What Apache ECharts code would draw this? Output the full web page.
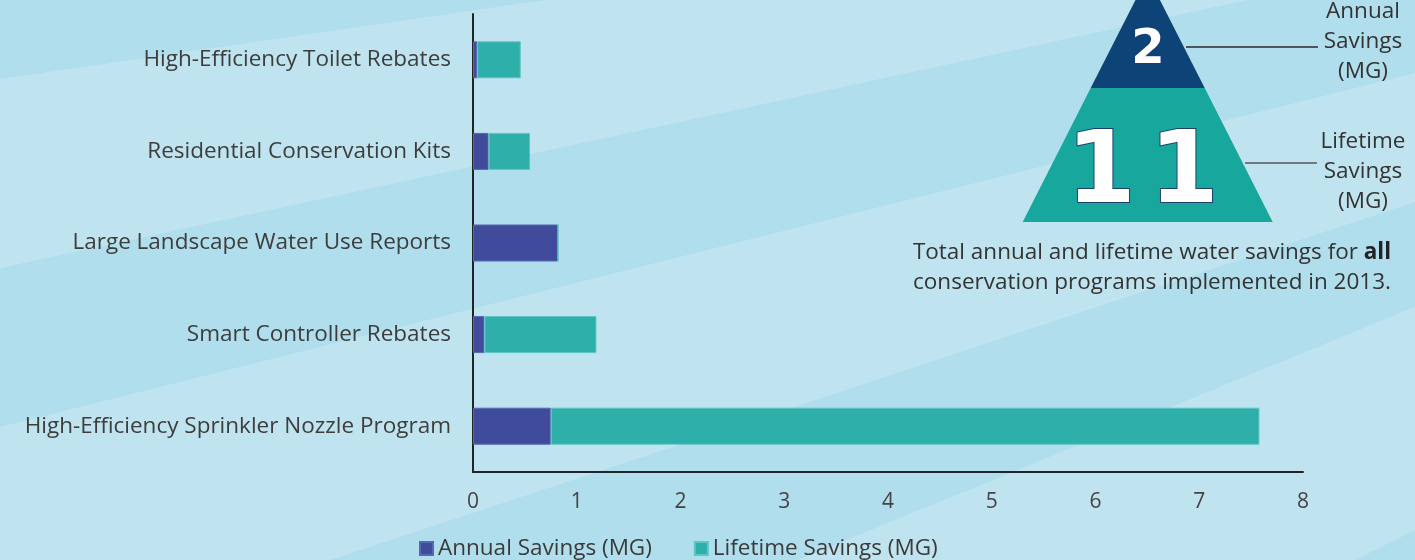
<!DOCTYPE html>
<html>
<head>
<meta charset="utf-8">
<style>
  html, body { margin: 0; padding: 0; background: #c0e4ef; }
  #chart { width: 1415px; height: 560px; }
</style>
<script src="https://cdn.jsdelivr.net/npm/echarts@6/dist/echarts.min.js"></script>
</head>
<body>
<div id="chart"></div>
<script>
// 数据
var categories = [
    'High-Efficiency Toilet Rebates',
    'Residential Conservation Kits',
    'Large Landscape Water Use Reports',
    'Smart Controller Rebates',
    'High-Efficiency Sprinkler Nozzle Program'
];
var annualSavings = [0.04, 0.15, 0.82, 0.11, 0.75];
var lifetimeSavings = [0.42, 0.40, 0, 1.08, 6.83];
var xTicks = [0, 1, 2, 3, 4, 5, 6, 7, 8];
var totalAnnual = '2';
var totalLifetime = '11';

var FONT = '"Open Sans", Lato, sans-serif';
var FS = 22.5; // 字号
var LIGHT = '#c0e4ef';
var DARK = '#b0deec';

// 背景斜条纹
function stripe(points) {
    return {
        type: 'polygon',
        z: -10,
        silent: true,
        shape: { points: points },
        style: { fill: DARK }
    };
}

var chart = echarts.init(document.getElementById('chart'));

var option = {
    backgroundColor: LIGHT,
    animation: false,
    grid: {
        left: 473,
        right: 112,
        top: 14,
        bottom: 88,
        containLabel: false
    },
    legend: {
        left: 414,
        top: 532,
        itemWidth: 13,
        itemHeight: 13,
        itemGap: 42,
        icon: 'rect',
        textStyle: { fontFamily: FONT, fontSize: FS, color: '#3a3a3a' },
        data: ['Annual Savings (MG)', 'Lifetime Savings (MG)']
    },
    xAxis: {
        type: 'value',
        min: 0,
        max: 8,
        interval: 1,
        axisLine: { show: true, lineStyle: { color: '#1e2626', width: 2 } },
        axisTick: { show: false },
        splitLine: { show: false },
        axisLabel: {
            margin: 20,
            fontFamily: FONT,
            fontSize: 21,
            color: '#444',
            formatter: function (v) { return xTicks.indexOf(v) >= 0 ? String(v) : ''; }
        }
    },
    yAxis: {
        type: 'category',
        inverse: true,
        data: categories,
        axisLine: { show: true, lineStyle: { color: '#1e2626', width: 2 } },
        axisTick: { show: false },
        axisLabel: {
            margin: 22,
            fontFamily: FONT,
            fontSize: FS,
            color: '#3d3d3d',
            padding: [3, 0, 0, 0]
        }
    },
    series: [
        {
            name: 'Annual Savings (MG)',
            type: 'bar',
            stack: 'total',
            barWidth: 37,
            data: annualSavings,
            itemStyle: { color: '#404b9c', borderColor: '#5867b4', borderWidth: 1 }
        },
        {
            name: 'Lifetime Savings (MG)',
            type: 'bar',
            stack: 'total',
            barWidth: 37,
            data: lifetimeSavings,
            itemStyle: { color: '#2eafaa', borderColor: '#5cc6c4', borderWidth: 1 }
        }
    ],
    graphic: [
        // 条纹
        stripe([[0, 0], [0, 79], [545, 0]]),
        stripe([[0, 268], [1415, -36], [1415, 73], [0, 427]]),
        stripe([[0, 669], [1415, 202], [1415, 307], [0, 887]]),
        stripe([[0, 1237], [1415, 530], [1415, 1400], [0, 1400]]),
        // 金字塔
        {
            type: 'polygon', z: 10, silent: true,
            shape: { points: [[1147.7, -24], [1204.7, 88], [1090.7, 88]] },
            style: { fill: '#0e4378' }
        },
        {
            type: 'polygon', z: 10, silent: true,
            shape: { points: [[1090.7, 88], [1204.7, 88], [1272.7, 222], [1022.7, 222]] },
            style: { fill: '#17a79d' }
        },
        {
            type: 'text', z: 11, silent: true,
            x: 1148, y: 51,
            style: {
                text: totalAnnual, x: 0, y: 0, align: 'center', verticalAlign: 'middle',
                font: 'bold 48px "DejaVu Sans"', fill: '#fff', stroke: '#1a3f70', lineWidth: 1.5
            }
        },
        {
            type: 'text', z: 11, silent: true,
            x: 1101, y: 176,
            style: {
                text: totalLifetime.charAt(0), x: 0, y: 0, align: 'center', verticalAlign: 'middle',
                font: 'bold 100px "DejaVu Sans"', fill: '#fff', stroke: '#1a3f70', lineWidth: 2
            }
        },
        {
            type: 'text', z: 11, silent: true,
            x: 1184, y: 176,
            style: {
                text: totalLifetime.charAt(1), x: 0, y: 0, align: 'center', verticalAlign: 'middle',
                font: 'bold 100px "DejaVu Sans"', fill: '#fff', stroke: '#1a3f70', lineWidth: 2
            }
        },
        // 引线
        {
            type: 'line', z: 10, silent: true,
            shape: { x1: 1186, y1: 47, x2: 1318, y2: 47 },
            style: { stroke: '#2a2a2a', lineWidth: 1.5 }
        },
        {
            type: 'line', z: 10, silent: true,
            shape: { x1: 1245, y1: 163, x2: 1317, y2: 163 },
            style: { stroke: '#555', lineWidth: 1.5 }
        },
        {
            type: 'text', z: 10, silent: true,
            x: 1363, y: 42,
            style: {
                text: 'Annual\nSavings\n(MG)', align: 'center', verticalAlign: 'middle',
                font: FS + 'px ' + FONT, lineHeight: 30, fill: '#333'
            }
        },
        {
            type: 'text', z: 10, silent: true,
            x: 1363, y: 172,
            style: {
                text: 'Lifetime\nSavings\n(MG)', align: 'center', verticalAlign: 'middle',
                font: FS + 'px ' + FONT, lineHeight: 30, fill: '#333'
            }
        },
        {
            type: 'text', z: 10, silent: true,
            x: 1152, y: 268,
            style: {
                text: 'Total annual and lifetime water savings for {b|all}\nconservation programs implemented in 2013.',
                align: 'center', verticalAlign: 'middle',
                font: FS + 'px ' + FONT, lineHeight: 30, fill: '#333',
                rich: {
                    b: { fontFamily: FONT, fontSize: FS, fontWeight: 'bold', fill: '#222', lineHeight: 30 }
                }
            }
        }
    ]
};

chart.setOption(option);
</script>
</body>
</html>
